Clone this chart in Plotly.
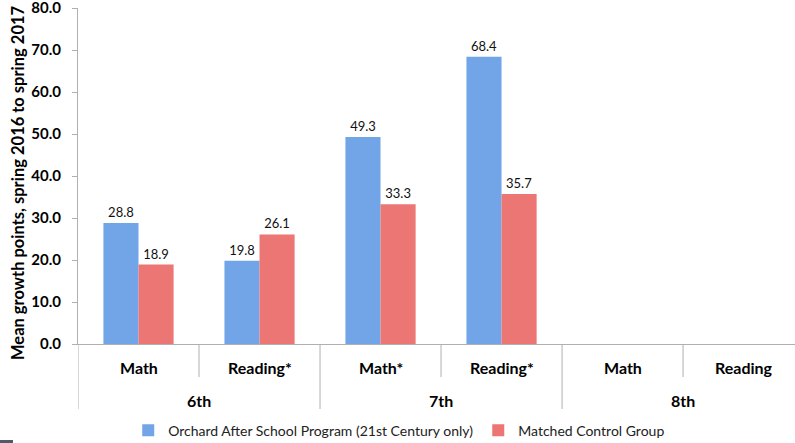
import plotly.graph_objects as go

grades = ["6th", "7th", "8th"]
subjects = ["Math", "Reading*", "Math*", "Reading*", "Math", "Reading"]
orchard = [28.8, 19.8, 49.3, 68.4, None, None]
control = [18.9, 26.1, 33.3, 35.7, None, None]
y_ticks = [0, 10, 20, 30, 40, 50, 60, 70, 80]
y_title = "Mean growth points, spring 2016 to spring 2017"

FONT = "Lato"
AXIS_COLOR = "#b0b0b0"
PLOT_H = 336  # plot area height in px (for paper-unit offsets below the axis)
PLOT_W = 717

xpos = list(range(len(subjects)))
per_group = len(subjects) // len(grades)

def fmt(vals):
    return ["" if v is None else f"{v:.1f}" for v in vals]

fig = go.Figure()
fig.add_trace(go.Bar(
    x=xpos, y=orchard, name="Orchard After School Program (21st Century only)",
    marker=dict(color="#72a5e8", line=dict(width=0)),
    text=fmt(orchard), textposition="outside", cliponaxis=False,
    textfont=dict(family=FONT, size=13, color="#111"),
))
fig.add_trace(go.Bar(
    x=xpos, y=control, name="Matched Control Group",
    marker=dict(color="#ec7673", line=dict(width=0)),
    text=fmt(control), textposition="outside", cliponaxis=False,
    textfont=dict(family=FONT, size=13, color="#111"),
))

shapes = []
annotations = []
# subject labels and short dividers between subjects
for i, s in enumerate(subjects):
    annotations.append(dict(x=i, y=-23 / PLOT_H, xref="x", yref="paper", text=s, showarrow=False,
                            yanchor="middle", font=dict(family=FONT, size=16, color="#000", weight="bold")))
    if i % per_group != 0:
        shapes.append(dict(type="line", xref="x", yref="paper", x0=i - 0.5, x1=i - 0.5,
                           y0=0, y1=-33 / PLOT_H, line=dict(color=AXIS_COLOR, width=1)))
# grade labels and long dividers between grades
for g, name in enumerate(grades):
    start = g * per_group
    center = start + (per_group - 1) / 2
    annotations.append(dict(x=center, y=-56 / PLOT_H, xref="x", yref="paper", text=name, showarrow=False,
                            yanchor="middle", font=dict(family=FONT, size=16, color="#000", weight="bold")))
    shapes.append(dict(type="line", xref="x", yref="paper", x0=start - 0.5, x1=start - 0.5,
                       y0=0, y1=-65 / PLOT_H, line=dict(color=AXIS_COLOR, width=1)))
# y-axis title
annotations.append(dict(x=-60 / PLOT_W, y=(344 - 183) / PLOT_H, xref="paper", yref="paper", text=y_title,
                        textangle=-90, showarrow=False, xanchor="center", yanchor="middle",
                        font=dict(family=FONT, size=16.5, color="#000", weight="bold")))
# small dark mark at the bottom-left corner of the reference image
shapes.append(dict(type="line", xref="paper", yref="paper", x0=-78 / PLOT_W, x1=-65 / PLOT_W,
                   y0=-97.5 / PLOT_H, y1=-97.5 / PLOT_H, line=dict(color="#4d5b6b", width=3)))

fig.update_layout(
    width=795, height=443,
    margin=dict(l=78, r=0, t=8, b=99, autoexpand=False),
    paper_bgcolor="white", plot_bgcolor="white",
    barmode="group", bargap=0.42, bargroupgap=0,
    font=dict(family=FONT, color="#000"),
    showlegend=True,
    legend=dict(orientation="h", x=0.448, xanchor="center", y=-0.258, yanchor="middle",
                font=dict(family=FONT, size=14, color="#222"),
                itemwidth=30, tracegroupgap=0),
    shapes=shapes, annotations=annotations,
)
fig.update_yaxes(
    range=[0, 80], tickvals=y_ticks, ticktext=[f"{v:.1f}" for v in y_ticks],
    showgrid=False, zeroline=False, showline=True, linecolor=AXIS_COLOR, linewidth=1,
    ticks="outside", ticklen=5, tickcolor=AXIS_COLOR, ticklabelstandoff=8,
    ticklabeloverflow="allow",
    tickfont=dict(family=FONT, size=15, color="#000", weight="bold"),
)
fig.update_xaxes(
    range=[-0.5, 5.425], showline=True, linecolor=AXIS_COLOR, linewidth=1,
    showgrid=False, zeroline=False, showticklabels=False, ticks="",
)
fig.write_html("out.html")
